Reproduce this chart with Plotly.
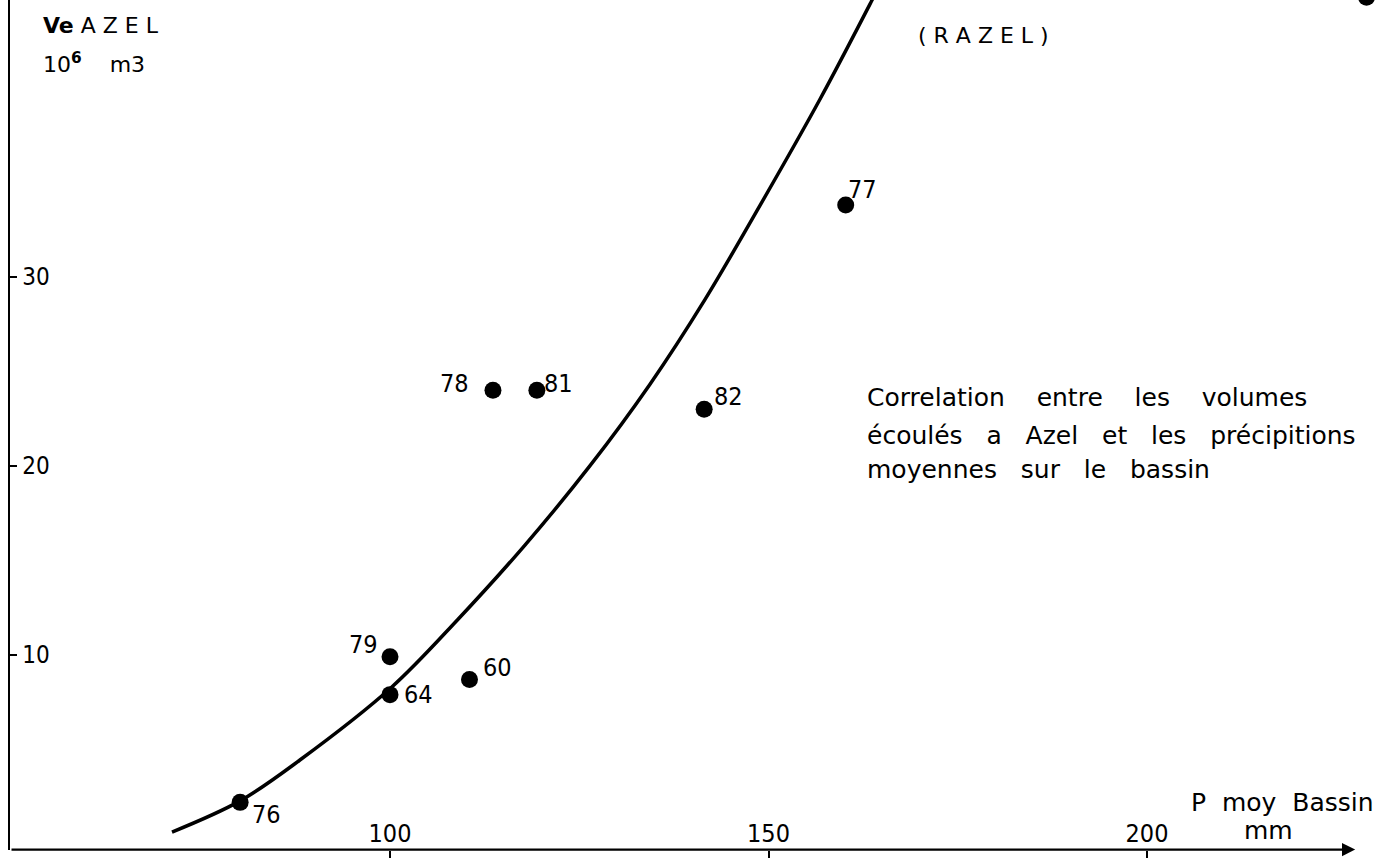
import plotly.graph_objects as go

# Observed years: mean basin rainfall (mm) vs runoff volume at Azel (10^6 m3)
years = ["76", "79", "64", "60", "78", "81", "82", "77", ""]
p_moy = [80.2, 100.0, 100.0, 110.5, 113.6, 119.4, 141.5, 160.2, 229.0]
ve_azel = [2.2, 9.9, 7.9, 8.7, 24.0, 24.0, 23.0, 33.8, 44.8]
# label offsets in pixels (style only)
label_dx = [26, -27, 28, 28, -38, 22, 24, 17, 0]
label_dy = [-12, 12, 0, 12, 7, 7, 13, 16, 0]

# Fitted correlation curve (RAZEL)
curve_p = [71.2, 80.2, 88.1, 100.1, 108.9, 117.8, 126.4, 134.3, 141.6, 148.9, 156.8, 163.7, 165.4]
curve_v = [0.63, 2.28, 4.44, 8.25, 11.85, 15.8, 20.0, 24.3, 28.8, 33.8, 39.4, 44.66, 46.0]

x_ticks = [100, 150, 200]
y_ticks = [10, 20, 30]

FONT = "DejaVu Sans"
NUMFONT = "DejaVu Sans Condensed, DejaVu Sans"
BLACK = "#000000"
NB = "\u00a0"

fig = go.Figure()
fig.add_trace(go.Scatter(x=curve_p, y=curve_v, mode="lines",
                         line=dict(color=BLACK, width=3.5, shape="spline", smoothing=1.0),
                         hoverinfo="skip", showlegend=False))
fig.add_trace(go.Scatter(x=p_moy, y=ve_azel, mode="markers",
                         marker=dict(color=BLACK, size=17),
                         showlegend=False, cliponaxis=True))

for yr, xv, yv, dx, dy in zip(years, p_moy, ve_azel, label_dx, label_dy):
    if yr:
        fig.add_annotation(x=xv, y=yv, xref="x", yref="y", text=yr, showarrow=False,
                           xshift=dx, yshift=dy, font=dict(family=NUMFONT, size=25, color=BLACK))

# x axis with arrow
fig.add_annotation(x=227.5, y=-0.3, ax=49.8, ay=-0.3, xref="x", yref="y", axref="x", ayref="y",
                   text="", showarrow=True, arrowhead=2, arrowsize=1.2, arrowwidth=2.2, arrowcolor=BLACK)

ann_font = dict(family=FONT, size=22, color=BLACK)
cap_font = dict(family=FONT, size=25, color=BLACK)
fig.add_annotation(x=53.9, y=43.3, xref="x", yref="y", xanchor="left", showarrow=False,
                   text="<b>Ve</b>" + NB + "A" + NB + "Z" + NB + "E" + NB + "L", font=ann_font)
fig.add_annotation(x=53.9, y=41.3, xref="x", yref="y", xanchor="left", showarrow=False,
                   text="10<sup><b>6</b></sup>" + NB * 4 + "m3", font=ann_font)
fig.add_annotation(x=169.5, y=42.75, xref="x", yref="y", xanchor="left", showarrow=False,
                   text="(" + NB + "R" + NB + "A" + NB + "Z" + NB + "E" + NB + "L" + NB + ")", font=ann_font)
fig.add_annotation(x=205.5, y=2.2, xref="x", yref="y", xanchor="left", showarrow=False,
                   text="P" + NB * 2 + "moy" + NB * 2 + "Bassin", font=cap_font)
fig.add_annotation(x=212.6, y=0.7, xref="x", yref="y", xanchor="left", showarrow=False,
                   text="mm", font=cap_font)
caption = [(NB * 4).join(["Correlation", "entre", "les", "volumes"]),
           (NB * 3).join(["écoulés", "a", "Azel", "et", "les", "précipitions"]),
           (NB * 3).join(["moyennes", "sur", "le", "bassin"])]
for line, yv in zip(caption, [23.6, 21.6, 19.8]):
    fig.add_annotation(x=162.7, y=yv, xref="x", yref="y", xanchor="left", showarrow=False,
                       text=line, font=cap_font)

fig.update_layout(
    width=1390, height=858,
    margin=dict(l=10, r=0, t=0, b=8),
    paper_bgcolor="white", plot_bgcolor="white",
    xaxis=dict(range=[49.8, 232.1], tickvals=x_ticks, ticktext=[str(v) for v in x_ticks],
               ticks="outside", ticklen=9, tickwidth=2, tickcolor=BLACK, ticklabelposition="inside",
               showgrid=False, zeroline=False, showline=False,
               tickfont=dict(family=NUMFONT, size=25, color=BLACK)),
    yaxis=dict(range=[-0.32, 44.65], tickvals=y_ticks, ticktext=[NB + str(v) for v in y_ticks],
               ticks="inside", ticklen=7, tickwidth=2, tickcolor=BLACK, ticklabelposition="inside",
               showgrid=False, zeroline=False, showline=True, linewidth=2.2, linecolor=BLACK,
               tickfont=dict(family=NUMFONT, size=24, color=BLACK)),
)

fig.write_html("out.html")
